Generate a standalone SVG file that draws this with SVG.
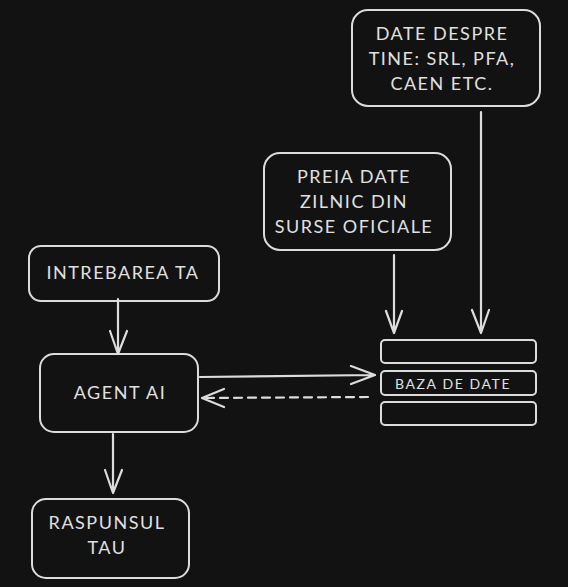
<svg xmlns="http://www.w3.org/2000/svg" width="568" height="587" viewBox="0 0 568 587">
<style>
.box{fill:#121212;stroke:#dcdcdc;stroke-width:2}
.t{fill:#e0e0e0;font-family:Lato,"Open Sans","Liberation Sans",sans-serif;font-size:18px;letter-spacing:1.5px;text-anchor:middle}
.ts{fill:#e0e0e0;font-family:Lato,"Open Sans","Liberation Sans",sans-serif;font-size:14px;letter-spacing:1.6px}
.c{fill:none;stroke:#dcdcdc;stroke-width:2.2;stroke-linecap:round;stroke-linejoin:round}
</style>
<rect width="568" height="587" fill="#121212"/>
<g id="date-despre"><rect class="box" x="352" y="10" width="188" height="96" rx="16"/>
<text class="t" x="442" y="40">DATE DESPRE</text><text class="t" x="442" y="65">TINE: SRL, PFA,</text><text class="t" x="442" y="90">CAEN ETC.</text></g>
<g id="preia-date"><rect class="box" x="264" y="153" width="187" height="97" rx="16"/>
<text class="t" x="354" y="183">PREIA DATE</text><text class="t" x="354" y="208">ZILNIC DIN</text><text class="t" x="354" y="233">SURSE OFICIALE</text></g>
<g id="intrebarea"><rect class="box" x="29" y="246" width="190" height="55" rx="12"/>
<text class="t" x="123" y="279">INTREBAREA TA</text></g>
<g id="agent"><rect class="box" x="40" y="354" width="158" height="78" rx="14"/>
<text class="t" x="120" y="399">AGENT AI</text></g>
<g id="raspuns"><rect class="box" x="32" y="499" width="157" height="79" rx="14"/>
<text class="t" x="107" y="529">RASPUNSUL</text><text class="t" x="107" y="554">TAU</text></g>
<g id="baza-de-date">
<rect class="box" x="381" y="340" width="155" height="23" rx="4"/>
<rect class="box" x="381" y="371" width="155" height="24" rx="4"/>
<rect class="box" x="381" y="402" width="155" height="23" rx="4"/>
<text class="ts" x="395" y="389">BAZA DE DATE</text></g>
<g id="connectors">
<path class="c" d="M481 112 L481 333 M472 310 L481 333 L489 310"/>
<path class="c" d="M394 255 L394 333 M386 311 L394 333 L402 311"/>
<path class="c" d="M118 299 L118 354 M110 331 L118 354 L127 331"/>
<path class="c" d="M113 434 L113 493 M105 470 L113 493 L122 470"/>
<path class="c" d="M200 377 L375 375 M351 366 L375 375 L351 384"/>
<path class="c" d="M368 397 L202 398" stroke-dasharray="8 6"/>
<path class="c" d="M224 389 L202 398 L224 407"/>
</g>
</svg>
